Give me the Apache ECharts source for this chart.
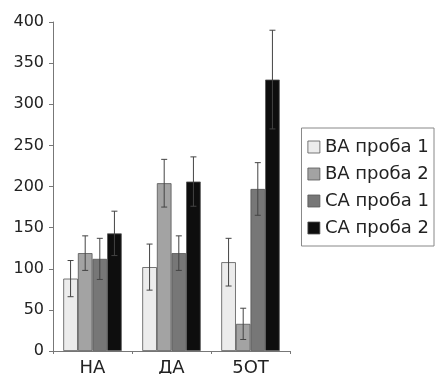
<!DOCTYPE html>
<html><head><meta charset="utf-8">
<script src="https://cdn.jsdelivr.net/npm/echarts@6/dist/echarts.min.js"></script>
<style>html,body{margin:0;padding:0;background:#fff}#c{width:435px;height:374px}</style>
</head><body><div id="c"></div>
<script>
var categories = ['НА', 'ДА', '5ОТ'];
var seriesNames = ['ВА проба 1', 'ВА проба 2', 'СА проба 1', 'СА проба 2'];
var ba1 = [88, 102, 108];
var ba2 = [119, 204, 33];
var ca1 = [112, 119, 197];
var ca2 = [143, 206, 330];
var ba1Err = [22, 28, 29];
var ba2Err = [21, 29, 19];
var ca1Err = [25, 21, 32];
var ca2Err = [27, 30, 60];
var yTicks = [0, 50, 100, 150, 200, 250, 300, 350, 400];

var values = [ba1, ba2, ca1, ca2];
var errs = [ba1Err, ba2Err, ca1Err, ca2Err];
var colors = ['#ececec', '#a3a3a3', '#777777', '#0e0e0e'];
var catGap = 0.26;
var FONT = 'DejaVu Sans';

var chart = echarts.init(document.getElementById('c'));
var series = [];
values.forEach(function (v, i) {
  series.push({
    name: seriesNames[i], type: 'bar', data: v, barGap: '0%', barCategoryGap: (catGap * 100) + '%',
    itemStyle: { color: colors[i], borderColor: '#555', borderWidth: 0.8 }
  });
});
errs.forEach(function (e, i) {
  series.push({
    type: 'custom', z: 10, silent: true,
    data: values[i].map(function (v, k) { return [k, v - e[k], v + e[k]]; }),
    renderItem: function (params, api) {
      var band = api.size([1, 0])[0];
      var bw = band * (1 - catGap) / 4;
      var c = api.coord([api.value(0), 0]);
      var x = c[0] - 2 * bw + bw * (i + 0.5);
      var lo = api.coord([api.value(0), api.value(1)])[1];
      var hi = api.coord([api.value(0), api.value(2)])[1];
      var st = { stroke: '#444', lineWidth: 1 };
      return { type: 'group', children: [
        { type: 'line', shape: { x1: x, y1: lo, x2: x, y2: hi }, style: st },
        { type: 'line', shape: { x1: x - 3, y1: hi, x2: x + 3, y2: hi }, style: st },
        { type: 'line', shape: { x1: x - 3, y1: lo, x2: x + 3, y2: lo }, style: st }
      ]};
    }
  });
});

chart.setOption({
  animation: false,
  grid: { left: 53, right: 145, top: 22, bottom: 23, containLabel: false, outerBoundsMode: 'none' },
  legend: {
    orient: 'vertical', right: 1, top: 128,
    data: seriesNames.map(function (n, i) { return { name: n, itemStyle: { color: colors[i], borderColor: '#555', borderWidth: 0.8 } }; }),
    itemWidth: 12, itemHeight: 12, itemGap: 9, icon: 'rect', itemTextGap: 5,
    padding: [10, 5, 9, 6],
    borderColor: '#888', borderWidth: 1,
    textStyle: { fontFamily: FONT, fontSize: 18, color: '#222' }
  },
  xAxis: {
    type: 'category', data: categories,
    axisLine: { lineStyle: { color: '#777', width: 1 } },
    axisTick: { show: true, length: 3, lineStyle: { color: '#777' } },
    axisLabel: { fontFamily: FONT, fontSize: 18, color: '#222', margin: 8 }
  },
  yAxis: {
    type: 'value', min: yTicks[0], max: yTicks[yTicks.length - 1], interval: 50,
    splitLine: { show: false },
    axisLine: { show: true, lineStyle: { color: '#777', width: 1 } },
    axisTick: { show: true, length: 4, lineStyle: { color: '#777' } },
    axisLabel: { fontFamily: FONT, fontSize: 16, color: '#222', margin: 9 }
  },
  series: series
});
</script></body></html>
